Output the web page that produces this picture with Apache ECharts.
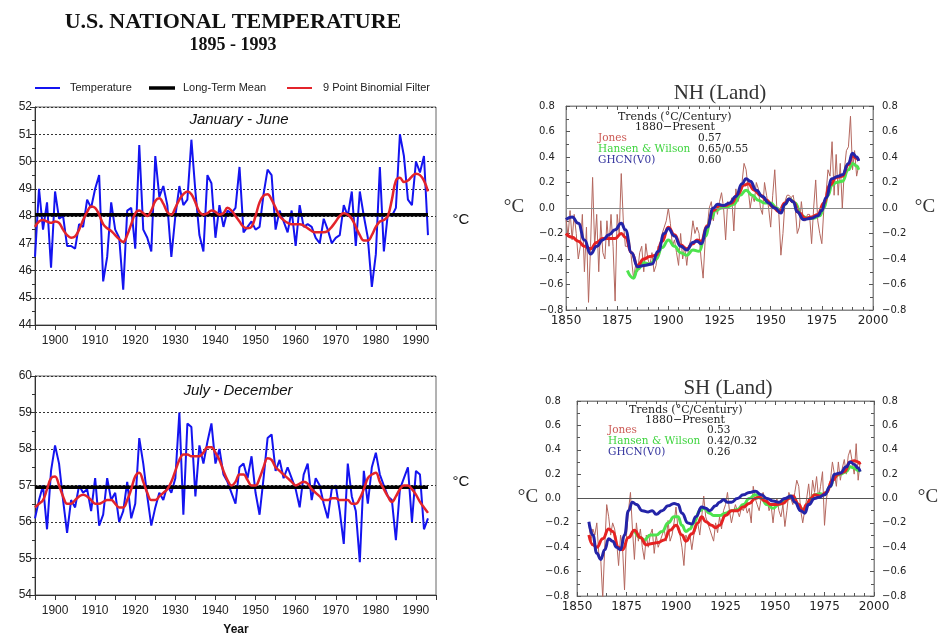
<!DOCTYPE html>
<html><head><meta charset="utf-8">
<script src="https://cdn.jsdelivr.net/npm/echarts@6/dist/echarts.min.js"></script>
<style>html,body{margin:0;padding:0;background:#fff}#c{width:939px;height:636px}</style>
</head><body><div id="c"></div>
<script>
// ---------- U.S. national temperature (°F scale as drawn), 1895-1993 ----------
const usStartYear = 1895;
const janJun = [46.5,49.0,47.5,48.5,46.1,48.9,47.9,48.0,46.9,46.9,
46.8,47.7,47.6,48.6,48.3,49.0,49.5,45.6,46.5,48.5,
47.5,47.2,45.3,48.2,48.3,46.8,50.6,47.5,47.2,46.7,
50.2,48.7,49.1,48.4,46.5,48.0,49.1,48.4,48.6,50.8,
48.9,47.3,46.7,49.5,49.2,47.2,48.4,47.6,48.2,48.1,
48.3,49.8,47.4,47.6,47.8,47.5,47.6,48.8,49.7,49.5,
47.5,48.2,47.8,47.4,48.2,46.9,48.4,47.6,47.7,47.6,
47.2,47.0,47.9,47.5,47.0,47.2,47.3,48.4,48.0,48.9,
46.9,48.9,48.0,47.2,45.4,46.6,49.8,46.7,48.1,48.0,
48.3,51.0,50.2,48.6,48.4,50.0,49.6,50.2,47.3];
const janJunFilter = [47.6,47.8,47.85,47.8,47.75,47.8,47.75,47.5,47.3,47.2,
47.25,47.5,47.85,48.15,48.35,48.3,48.05,47.7,47.55,47.45,
47.3,47.15,47.05,47.3,47.7,48.1,48.2,48.1,48.0,48.2,
48.55,48.65,48.45,48.15,48.05,48.3,48.6,48.8,48.9,48.8,
48.5,48.15,48.05,48.1,48.2,48.15,48.05,48.1,48.3,48.2,
48.0,47.8,47.6,47.55,47.6,48.0,48.5,48.75,48.8,48.6,
48.3,48.0,47.85,47.75,47.7,47.7,47.7,47.65,47.55,47.45,
47.4,47.4,47.4,47.45,47.6,47.8,48.0,48.1,48.05,47.9,
47.6,47.3,47.1,47.1,47.3,47.6,47.8,47.85,48.0,48.6,
49.3,49.4,49.25,49.3,49.45,49.55,49.5,49.3,48.9];
const julDec = [56.1,56.6,57.0,55.8,57.4,58.1,57.6,56.6,55.7,56.6,
56.4,57.0,56.8,56.9,56.3,57.2,55.9,56.2,57.2,56.6,
56.8,56.0,56.3,57.1,56.1,56.5,58.3,57.6,56.7,55.9,
56.4,56.8,56.6,57.0,56.8,57.2,59.0,56.2,58.7,58.6,
56.7,58.1,57.6,58.2,58.7,57.6,58.0,57.3,57.1,56.8,
56.5,57.5,57.6,57.2,57.8,56.8,56.2,57.2,58.3,58.4,
57.4,57.7,57.2,57.5,57.2,56.9,56.4,57.3,57.6,56.6,
57.2,57.0,56.5,56.1,56.9,57.0,56.3,55.4,57.6,56.7,
56.3,54.9,57.4,56.5,57.5,57.9,57.3,57.0,56.7,56.6,
55.5,56.9,57.2,57.5,56.0,57.4,57.3,55.8,56.1];
const julDecFilter = [56.4,56.5,56.6,56.9,57.2,57.25,57.0,56.7,56.5,56.5,
56.6,56.7,56.75,56.7,56.6,56.5,56.5,56.55,56.6,56.6,
56.5,56.4,56.4,56.6,56.9,57.25,57.35,57.1,56.8,56.6,
56.6,56.7,56.8,56.9,57.1,57.4,57.7,57.85,57.85,57.8,
57.8,57.8,57.9,58.05,58.05,57.9,57.7,57.4,57.15,57.0,
57.1,57.3,57.3,57.15,57.0,57.0,57.2,57.5,57.75,57.7,
57.5,57.4,57.3,57.2,57.1,57.0,57.05,57.1,57.05,56.9,
56.8,56.7,56.6,56.6,56.65,56.65,56.6,56.6,56.6,56.5,
56.5,56.65,56.9,57.2,57.3,57.35,57.1,56.9,56.7,56.55,
56.7,56.9,57.0,57.0,56.9,56.75,56.55,56.4,56.25];
const janJunMean = 48.05;
const julDecMean = 56.95;
const usTicks = ['1900','1910','1920','1930','1940','1950','1960','1970','1980','1990'];

// ---------- NH land anomalies (°C) ----------
const nhStartYear = 1850;
const nhJones = [-0.08,-0.22,-0.02,-0.25,-0.05,-0.2,-0.4,-0.3,-0.05,-0.5,
-0.15,-0.74,-0.3,0.24,-0.3,-0.05,-0.5,-0.1,-0.35,-0.4,
-0.1,-0.3,-0.05,-0.3,-0.73,-0.05,-0.2,0.27,-0.1,-0.3,
-0.3,-0.25,-0.4,-0.55,-0.45,-0.5,-0.35,-0.3,-0.5,-0.28,
-0.4,-0.45,-0.35,-0.5,-0.45,-0.3,-0.35,-0.2,-0.15,-0.1,
0.0,-0.12,-0.3,-0.25,-0.35,-0.45,-0.2,-0.4,-0.3,-0.45,
-0.3,-0.25,-0.1,-0.2,-0.15,-0.2,-0.4,-0.55,-0.25,-0.15,
0.0,0.05,-0.1,0.02,-0.05,0.05,0.12,0.0,-0.25,0.05,
0.02,0.08,-0.18,0.15,0.05,0.1,0.2,0.35,0.3,0.15,
0.0,0.1,0.05,0.2,0.15,0.0,-0.05,0.2,0.1,0.0,
-0.15,0.1,0.3,0.0,-0.05,-0.37,-0.2,0.05,0.1,0.1,
0.08,0.1,0.0,-0.2,-0.15,0.05,-0.1,-0.1,-0.05,-0.05,
-0.28,0.0,0.22,-0.1,-0.2,-0.28,0.0,0.1,0.3,0.25,
0.52,0.1,0.42,0.1,0.35,0.0,0.3,0.45,0.48,0.72,
0.3,0.45,0.25,0.33];
const nhJonesSmooth = [[1850,-0.2],[1853,-0.23],[1856,-0.26],[1859,-0.3],[1862,-0.32],[1865,-0.27],[1868,-0.24],[1871,-0.24],[1874,-0.24],[1877,-0.2],[1879,-0.23],[1882,-0.35],[1885,-0.45],[1888,-0.4],[1891,-0.38],[1894,-0.37],[1897,-0.26],[1900,-0.15],[1903,-0.21],[1906,-0.29],[1909,-0.32],[1912,-0.28],[1914,-0.25],[1916,-0.26],[1919,-0.14],[1922,-0.02],[1925,0.02],[1928,0.02],[1931,0.04],[1934,0.11],[1937,0.18],[1939,0.19],[1942,0.14],[1945,0.1],[1948,0.06],[1951,0.01],[1954,-0.03],[1957,0.04],[1959,0.07],[1961,0.05],[1964,-0.04],[1967,-0.08],[1970,-0.07],[1973,-0.05],[1976,0.04],[1979,0.18],[1982,0.24],[1985,0.25],[1988,0.34],[1990,0.41],[1992,0.39],[1993,0.37]];
const nhHansen = [[1880,-0.49],[1883,-0.55],[1885,-0.48],[1888,-0.43],[1891,-0.44],[1894,-0.4],[1897,-0.31],[1900,-0.25],[1903,-0.3],[1906,-0.35],[1909,-0.37],[1912,-0.33],[1915,-0.34],[1918,-0.22],[1921,-0.08],[1923,-0.02],[1926,0.0],[1929,0.01],[1932,0.03],[1935,0.1],[1938,0.14],[1941,0.1],[1944,0.06],[1947,0.04],[1950,0.04],[1953,0.0],[1955,-0.03],[1957,0.03],[1959,0.07],[1962,0.04],[1965,-0.06],[1968,-0.08],[1971,-0.08],[1974,-0.06],[1976,0.0],[1978,0.1],[1980,0.18],[1982,0.2],[1985,0.21],[1988,0.3],[1990,0.35],[1992,0.33],[1993,0.3]];
const nhGhcn = [[1850,-0.09],[1853,-0.07],[1856,-0.12],[1859,-0.25],[1862,-0.36],[1865,-0.3],[1868,-0.25],[1871,-0.21],[1874,-0.17],[1877,-0.12],[1879,-0.17],[1882,-0.35],[1885,-0.46],[1888,-0.45],[1892,-0.44],[1895,-0.34],[1898,-0.2],[1900,-0.16],[1903,-0.22],[1906,-0.3],[1909,-0.33],[1912,-0.27],[1914,-0.26],[1916,-0.28],[1919,-0.15],[1922,0.0],[1924,0.03],[1927,0.02],[1930,0.04],[1933,0.09],[1936,0.19],[1938,0.23],[1940,0.21],[1943,0.14],[1946,0.09],[1949,0.04],[1952,0.0],[1955,-0.04],[1957,0.03],[1959,0.07],[1961,0.05],[1963,-0.03],[1966,-0.09],[1970,-0.08],[1973,-0.06],[1975,-0.02],[1977,0.08],[1980,0.23],[1983,0.25],[1985,0.26],[1988,0.35],[1990,0.43],[1992,0.4],[1993,0.37]];

// ---------- SH land anomalies (°C) ----------
const shStartYear = 1856;
const shJones = [-0.2,-0.35,-0.25,-0.3,-0.2,-0.45,-0.5,-0.82,-0.4,-0.05,
-0.15,-0.3,-0.2,-0.25,-0.35,-0.55,-0.3,-0.4,-0.75,-0.3,
-0.1,0.05,-0.25,-0.5,-0.2,-0.35,-0.25,-0.4,-0.5,-0.3,
-0.4,-0.3,-0.25,-0.45,-0.3,-0.4,-0.35,-0.3,-0.25,-0.35,
-0.18,-0.35,-0.3,-0.2,-0.07,-0.25,-0.3,-0.4,-0.55,-0.3,
-0.35,-0.3,-0.42,-0.3,-0.25,-0.2,-0.3,-0.15,0.02,-0.15,
-0.2,-0.25,-0.3,-0.35,-0.2,-0.28,-0.15,-0.25,-0.1,-0.05,
0.05,-0.1,-0.2,-0.12,-0.05,-0.1,-0.15,-0.08,-0.1,-0.05,
-0.12,-0.08,-0.2,0.1,0.0,-0.05,-0.1,0.0,0.05,-0.02,
0.0,-0.1,-0.05,-0.2,-0.05,0.0,-0.1,-0.15,-0.05,-0.23,
-0.1,0.05,0.0,-0.05,0.05,0.15,0.1,-0.1,-0.2,-0.1,
0.0,0.12,-0.05,0.15,0.05,0.18,0.0,0.1,0.22,-0.22,
0.0,0.1,0.15,0.3,0.2,0.1,0.3,0.15,0.25,0.32,
0.2,0.35,0.4,0.3,0.2,0.45,0.15,0.3];
const shJonesSmooth = [[1856,-0.3],[1858,-0.38],[1860,-0.4],[1863,-0.33],[1866,-0.25],[1868,-0.27],[1871,-0.4],[1873,-0.42],[1876,-0.32],[1879,-0.26],[1882,-0.32],[1885,-0.38],[1888,-0.37],[1891,-0.36],[1894,-0.34],[1897,-0.26],[1900,-0.22],[1903,-0.3],[1905,-0.35],[1908,-0.29],[1911,-0.2],[1913,-0.15],[1915,-0.19],[1918,-0.22],[1920,-0.24],[1922,-0.22],[1925,-0.14],[1928,-0.1],[1931,-0.1],[1934,-0.07],[1937,-0.04],[1940,0.0],[1942,0.01],[1945,-0.02],[1948,-0.05],[1951,-0.05],[1954,-0.04],[1957,0.0],[1959,0.02],[1962,-0.05],[1964,-0.1],[1966,-0.05],[1968,0.0],[1970,0.03],[1973,0.02],[1976,0.05],[1979,0.15],[1982,0.2],[1985,0.22],[1988,0.3],[1990,0.31],[1992,0.3],[1993,0.28]];
const shHansen = [[1879,-0.26],[1882,-0.32],[1884,-0.34],[1887,-0.3],[1890,-0.3],[1893,-0.27],[1896,-0.2],[1899,-0.15],[1901,-0.15],[1903,-0.22],[1905,-0.27],[1907,-0.25],[1909,-0.2],[1912,-0.1],[1914,-0.08],[1917,-0.12],[1919,-0.14],[1922,-0.14],[1925,-0.12],[1928,-0.1],[1931,-0.09],[1934,-0.05],[1937,0.0],[1940,0.03],[1943,0.0],[1946,-0.05],[1949,-0.08],[1952,-0.05],[1955,-0.02],[1958,0.02],[1960,-0.02],[1963,-0.08],[1965,-0.1],[1967,-0.03],[1970,0.03],[1973,0.04],[1975,0.03],[1978,0.1],[1980,0.18],[1983,0.2],[1986,0.22],[1988,0.26],[1990,0.25],[1992,0.23],[1993,0.22]];
const shGhcn = [[1856,-0.19],[1858,-0.3],[1860,-0.45],[1862,-0.5],[1864,-0.42],[1866,-0.33],[1868,-0.35],[1870,-0.4],[1872,-0.42],[1874,-0.3],[1876,-0.1],[1878,-0.03],[1880,-0.05],[1883,-0.1],[1886,-0.11],[1888,-0.1],[1890,-0.13],[1893,-0.1],[1896,-0.06],[1899,-0.04],[1901,-0.05],[1903,-0.12],[1906,-0.2],[1908,-0.21],[1910,-0.15],[1913,-0.07],[1915,-0.08],[1917,-0.1],[1920,-0.06],[1922,-0.03],[1924,-0.01],[1926,-0.03],[1928,-0.03],[1931,0.0],[1934,0.03],[1937,0.05],[1940,0.06],[1943,0.03],[1946,0.0],[1949,-0.02],[1952,-0.03],[1955,0.0],[1958,0.02],[1960,-0.03],[1963,-0.1],[1965,-0.12],[1967,-0.05],[1970,0.0],[1972,0.01],[1975,0.03],[1978,0.1],[1980,0.2],[1983,0.21],[1986,0.26],[1988,0.3],[1990,0.28],[1992,0.25],[1993,0.22]];

const nhTrends = ['0.57','0.65/0.55','0.60'];
const shTrends = ['0.53','0.42/0.32','0.26'];
const trendNames = ['Jones','Hansen & Wilson','GHCN(V0)'];

// ---------- helpers ----------
function pairs(start, arr){ return arr.map((v,i)=>[start+i, v]); }
const SANS = '"Liberation Sans", Arial, sans-serif';
const SERIF = '"Liberation Serif", "Times New Roman", serif';
const DSERIF = '"DejaVu Serif", serif';
const DSANS = '"DejaVu Sans", sans-serif';

function usX(g){ return {gridIndex:g, type:'value', min:1895, max:1995, interval:5,
  axisLine:{show:true, onZero:false, lineStyle:{color:'#333'}},
  axisTick:{show:true, length:5, lineStyle:{color:'#333'}},
  axisLabel:{formatter:v=> usTicks.indexOf(String(v))>=0 ? String(v) : '', fontFamily:SANS, fontSize:12, color:'#222', margin:10},
  splitLine:{show:false}}; }
function usY(g,min,max){ return {gridIndex:g, type:'value', min:min, max:max, interval:1,
  axisLine:{show:true, onZero:false, lineStyle:{color:'#333'}},
  axisTick:{show:true, length:5, lineStyle:{color:'#333'}},
  minorTick:{show:true, splitNumber:2, length:3, lineStyle:{color:'#333'}},
  axisLabel:{fontFamily:SANS, fontSize:12, color:'#222', margin:3},
  splitLine:{show:true, lineStyle:{type:[2,2], color:'#333', width:1}}}; }
function ghX(g, pos, showLabel){ return {gridIndex:g, type:'value', min:1850, max:2000, interval:25, position:pos,
  axisLine:{show:true, onZero:false, lineStyle:{color:'#888'}},
  axisTick:{show:true, inside:true, length:4, lineStyle:{color:'#555'}},
  minorTick:{show:true, splitNumber:5, length:3, lineStyle:{color:'#555'}},
  axisLabel:{show:showLabel, formatter:v=>String(v), fontFamily:DSANS, fontSize:12, color:'#222', margin:5},
  splitLine:{show:false}}; }
function ghY(g, pos, margin){ return {gridIndex:g, type:'value', min:-0.8, max:0.8, interval:0.2, position:pos,
  axisLine:{show:true, onZero:false, lineStyle:{color:'#888'}},
  axisTick:{show:true, inside:true, length:4, lineStyle:{color:'#555'}},
  minorTick:{show:true, splitNumber:2, length:3, lineStyle:{color:'#555'}},
  axisLabel:{fontFamily:DSANS, fontSize:10, color:'#222', margin:margin, align:'left',
    formatter:v=>{const s=Math.abs(v).toFixed(1); return v< -1e-9 ? '\u2212'+s : s;}},
  splitLine:{show:false}}; }

const line = (name,x,y,data,color,width,extra)=>Object.assign({type:'line', name, xAxisIndex:x, yAxisIndex:y, data,
  symbol:'none', showSymbol:false, lineStyle:{color, width}, itemStyle:{color}, silent:true, animation:false}, extra||{});

const series = [
  line('Temperature',0,0,pairs(usStartYear,janJun),'#1414f0',2,{z:2}),
  line('Long-Term Mean',0,0,[[1895,janJunMean],[1993,janJunMean]],'#000',3.5,{z:3}),
  line('9 Point Binomial Filter',0,0,pairs(usStartYear,janJunFilter),'#e3242b',2.5,{smooth:0.4,z:4}),
  line('Temperature',1,1,pairs(usStartYear,julDec),'#1414f0',2,{z:2}),
  line('Long-Term Mean',1,1,[[1895,julDecMean],[1993,julDecMean]],'#000',3.5,{z:3}),
  line('9 Point Binomial Filter',1,1,pairs(usStartYear,julDecFilter),'#e3242b',2.5,{smooth:0.4,z:4}),

  line('NH Jones',2,2,pairs(nhStartYear,nhJones),'#b4675e',1,{z:2,
    markLine:{silent:true, symbol:'none', label:{show:false}, data:[{yAxis:0}], lineStyle:{color:'#888', width:1, type:'solid'}, animation:false}}),
  line('NH Hansen',2,2,nhHansen,'#4ee34e',3,{smooth:0.5,smoothMonotone:'x',z:3}),
  line('NH Jones smooth',2,2,nhJonesSmooth,'#e52222',3,{smooth:0.5,smoothMonotone:'x',z:4}),
  line('NH GHCN',2,2,nhGhcn,'#2424a8',3,{smooth:0.5,smoothMonotone:'x',z:5}),

  line('SH Jones',4,4,pairs(shStartYear,shJones),'#b4675e',1,{z:2,
    markLine:{silent:true, symbol:'none', label:{show:false}, data:[{yAxis:0}], lineStyle:{color:'#555', width:1, type:'solid'}, animation:false}}),
  line('SH Hansen',4,4,shHansen,'#4ee34e',3,{smooth:0.5,smoothMonotone:'x',z:3}),
  line('SH Jones smooth',4,4,shJonesSmooth,'#e52222',3,{smooth:0.5,smoothMonotone:'x',z:4}),
  line('SH GHCN',4,4,shGhcn,'#2424a8',3,{smooth:0.5,smoothMonotone:'x',z:5})
];

function txt(x,y,text,font,fill,align,va){ return {type:'text', x, y, silent:true,
  style:{text, font, fill:fill||'#222', align:align||'left', verticalAlign:va||'middle'}}; }
function seg(x1,x2,y,color,w){ return {type:'line', silent:true, shape:{x1,y1:y,x2,y2:y}, style:{stroke:color, lineWidth:w}}; }

const trendColors = ['#cc5a55','#3fd43f','#34349e'];
const graphics = [
  txt(233,22,'U.S. NATIONAL TEMPERATURE','bold 22px '+SERIF,'#111','center'),
  txt(233,45,'1895 - 1993','bold 18px '+SERIF,'#111','center'),
  seg(35,60,88,'#1414f0',2), txt(70,88,'Temperature','11px '+SANS,'#222'),
  seg(149,175,88,'#000',3.5), txt(183,88,'Long-Term Mean','11px '+SANS,'#222'),
  seg(287,312,88,'#e3242b',2), txt(323,88,'9 Point Binomial Filter','11px '+SANS,'#222'),
  txt(239,120,'January - June','italic 15px '+SANS,'#111','center'),
  txt(238,391,'July - December','italic 15px '+SANS,'#111','center'),
  txt(461,220,'\u00b0C','15px '+SANS,'#111','center'),
  txt(461,482,'\u00b0C','15px '+SANS,'#111','center'),
  txt(236,630,'Year','bold 12px '+SANS,'#111','center'),
  txt(720,93,'NH (Land)','21px '+SERIF,'#333','center'),
  txt(728,388,'SH (Land)','21px '+SERIF,'#333','center'),
  txt(514,207,'\u00b0C','19px '+SERIF,'#333','center'),
  txt(925,207,'\u00b0C','19px '+SERIF,'#333','center'),
  txt(528,497,'\u00b0C','19px '+SERIF,'#333','center'),
  txt(928,497,'\u00b0C','19px '+SERIF,'#333','center'),
  txt(618,117,'Trends (\u00b0C/Century)','11px '+DSERIF,'#222'),
  txt(635,127,'1880\u2212Present','11px '+DSERIF,'#222'),
  txt(629,410,'Trends (\u00b0C/Century)','11px '+DSERIF,'#222'),
  txt(645,420,'1880\u2212Present','11px '+DSERIF,'#222')
];
trendNames.forEach((n,i)=>{
  graphics.push(txt(598,138+i*11,n,'10.5px '+DSERIF,trendColors[i]));
  graphics.push(txt(698,138+i*11,nhTrends[i],'10.5px '+DSERIF,'#222'));
  graphics.push(txt(608,430+i*11,n,'10.5px '+DSERIF,trendColors[i]));
  graphics.push(txt(707,430+i*11,shTrends[i],'10.5px '+DSERIF,'#222'));
});

const option = {
  backgroundColor:'#fff',
  animation:false,
  grid:[
    {left:35, top:107, width:401, height:218, show:true, borderColor:'#666', borderWidth:1, containLabel:false, outerBoundsMode:'none'},
    {left:35, top:376, width:401, height:219, show:true, borderColor:'#666', borderWidth:1, containLabel:false, outerBoundsMode:'none'},
    {left:566, top:106, width:307, height:204, show:true, borderColor:'#888', borderWidth:1, containLabel:false, outerBoundsMode:'none'},
    {left:577, top:401, width:297, height:195, show:true, borderColor:'#888', borderWidth:1, containLabel:false, outerBoundsMode:'none'}
  ],
  xAxis:[ usX(0), usX(1), ghX(2,'bottom',true), ghX(2,'top',false), ghX(3,'bottom',true), ghX(3,'top',false) ],
  yAxis:[ usY(0,44,52), usY(1,54,60), ghY(2,'left',27), ghY(2,'right',9), ghY(3,'left',32), ghY(3,'right',8) ],
  series: series,
  graphic: graphics
};
const chart = echarts.init(document.getElementById('c'), null, {renderer:'canvas'});
chart.setOption(option);
</script></body></html>
